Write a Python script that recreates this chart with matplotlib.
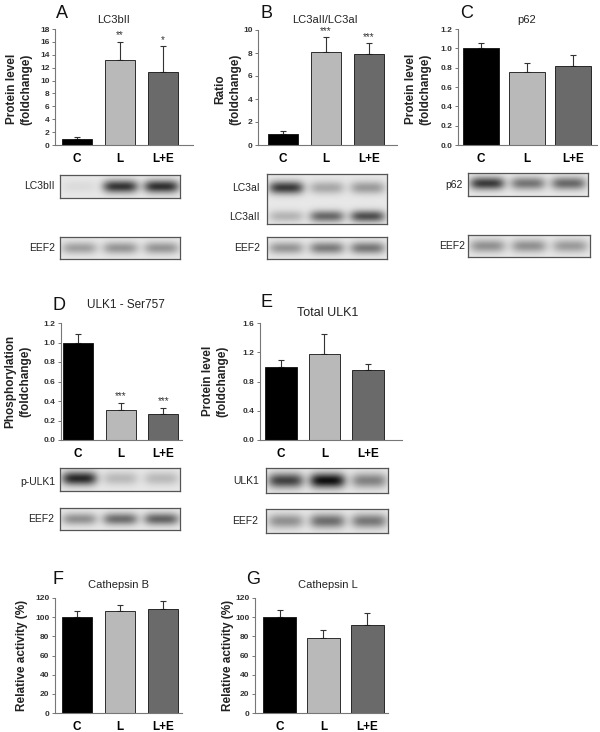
import numpy as np
import matplotlib
matplotlib.use("Agg")
import matplotlib.pyplot as plt

plt.rcParams['font.family'] = ['Liberation Sans', 'DejaVu Sans']

W, H = 600, 732
fig = plt.figure(figsize=(W / 100, H / 100), dpi=100)

# ---------------- data ----------------
groups = ["C", "L", "L+E"]
bar_colors = ["#000000", "#b9b9b9", "#6a6a6a"]

lc3b_mean = [1.0, 13.2, 11.3]
lc3b_err = [0.3, 2.8, 4.0]
lc3b_sig = ["", "**", "*"]

ratio_mean = [1.0, 8.05, 7.95]
ratio_err = [0.2, 1.3, 0.9]
ratio_sig = ["", "***", "***"]

p62_mean = [1.0, 0.76, 0.82]
p62_err = [0.06, 0.09, 0.11]
p62_sig = ["", "", ""]

pulk_mean = [1.0, 0.31, 0.265]
pulk_err = [0.09, 0.07, 0.065]
pulk_sig = ["", "***", "***"]

ulk_mean = [1.0, 1.18, 0.96]
ulk_err = [0.1, 0.27, 0.08]
ulk_sig = ["", "", ""]

catb_mean = [100, 106, 108.5]
catb_err = [6.5, 7, 8]
catb_sig = ["", "", ""]

catl_mean = [100, 78, 91.5]
catl_err = [7, 9, 13]
catl_sig = ["", "", ""]

# blot band darkness per lane (C, L, L+E)
band_lc3b = [0.05, 0.7, 0.72]
band_eef2_a = [0.28, 0.32, 0.32]
band_lc3ai = [0.68, 0.25, 0.3]
band_lc3aii = [0.2, 0.5, 0.6]
band_eef2_b = [0.32, 0.42, 0.44]
band_p62 = [0.68, 0.45, 0.5]
band_eef2_c = [0.34, 0.34, 0.3]
band_pulk = [0.75, 0.18, 0.18]
band_eef2_d = [0.34, 0.48, 0.52]
band_ulk = [0.65, 0.85, 0.4]
band_eef2_e = [0.34, 0.48, 0.44]


def add_ax(x0, y0, x1, y1):
    return fig.add_axes([x0 / W, 1 - y1 / H, (x1 - x0) / W, (y1 - y0) / H])


def bar_panel(box, xlim, ylim, ticks, fmt, means, errs, sigs, width=0.7):
    ax = add_ax(*box)
    x = np.arange(len(groups))
    ax.bar(x, means, width=width, color=bar_colors, edgecolor="#111111",
           linewidth=0.6, zorder=2)
    ax.errorbar(x, means, yerr=[np.zeros(len(errs)), errs], fmt="none",
                ecolor="#333333", elinewidth=0.8, capsize=2.5, capthick=0.8,
                zorder=1)
    rng = ylim[1] - ylim[0]
    for xi, m, e, s in zip(x, means, errs, sigs):
        if s:
            ax.text(xi, m + e + rng * 0.012, s, ha="center", va="bottom",
                    fontsize=7, color="#333333")
    ax.set_xlim(*xlim)
    ax.set_ylim(*ylim)
    ax.set_yticks(ticks)
    ax.set_yticklabels([fmt.format(t) for t in ticks])
    ax.set_xticks(x)
    ax.set_xticklabels(groups)
    for sp in ["top", "right"]:
        ax.spines[sp].set_visible(False)
    for sp in ["left", "bottom"]:
        ax.spines[sp].set_color("#777777")
        ax.spines[sp].set_linewidth(0.8)
    ax.tick_params(axis="y", length=2.5, width=0.7, color="#777777",
                   labelsize=6, labelcolor="#333333", pad=1.5)
    for lab in ax.get_yticklabels():
        lab.set_fontweight("bold")
    ax.tick_params(axis="x", length=0, labelsize=8.5, pad=6)
    for lab in ax.get_xticklabels():
        lab.set_fontweight("bold")
    ax.patch.set_alpha(0)
    return ax


def make_blot(box, rows, lanes=(0.16, 0.5, 0.84)):
    ax = add_ax(*box)
    ny, nx = 80, 240
    yy, xx = np.mgrid[0:ny, 0:nx]
    yf = yy / (ny - 1)
    xf = xx / (nx - 1)
    img = np.full((ny, nx), 0.91)
    for darks, yc, sy in rows:
        for lc, a in zip(lanes, darks):
            img -= a * np.exp(-((xf - lc) / 0.145) ** 4) * np.exp(-((yf - yc) / sy) ** 2)
    img = np.clip(img, 0, 1)
    ax.imshow(img, cmap="gray", vmin=0, vmax=1, aspect="auto",
              interpolation="bilinear", extent=[0, 1, 1, 0])
    ax.set_xticks([])
    ax.set_yticks([])
    for sp in ax.spines.values():
        sp.set_color("#555555")
        sp.set_linewidth(0.9)
    return ax


def label(x, y, s, **kw):
    fig.text(x / W, 1 - y / H, s, **kw)


def ylab(x, y, s):
    label(x, y, s, rotation=90, ha="center", va="center", fontsize=8.5,
          fontweight="bold", color="#222222", linespacing=1.3)


def title(x, y, s, size=8):
    label(x, y, s, ha="center", va="center", fontsize=size, color="#222222")


def letter(x, y, s):
    label(x, y, s, ha="center", va="center", fontsize=13, color="#111111")


def blot_label(x, y, s):
    label(x, y, s, ha="right", va="center", fontsize=7.5, color="#222222")


# ---------------- Panel A ----------------
bar_panel((55, 29, 193, 145), (-0.51, 2.70), (0, 18), np.arange(0, 19, 2), "{:.0f}",
          lc3b_mean, lc3b_err, lc3b_sig)
letter(62, 13, "A")
title(114, 20, "LC3bII")
ylab(19, 89, "Protein level\n(foldchange)")
make_blot((60, 175, 180, 198), [(band_lc3b, 0.5, 0.28)])
blot_label(55, 186, "LC3bII")
make_blot((60, 237, 180, 259), [(band_eef2_a, 0.5, 0.28)])
blot_label(55, 248, "EEF2")

# ---------------- Panel B ----------------
bar_panel((258, 30, 397, 145), (-0.58, 2.65), (0, 10), np.arange(0, 11, 2), "{:.0f}",
          ratio_mean, ratio_err, ratio_sig)
letter(267, 13, "B")
title(325, 20, "LC3aII/LC3aI")
ylab(228, 89, "Ratio\n(foldchange)")
make_blot((267, 174, 387, 224), [(band_lc3ai, 0.27, 0.13), (band_lc3aii, 0.85, 0.12)])
blot_label(260, 188, "LC3aI")
blot_label(260, 217, "LC3aII")
make_blot((267, 237, 387, 259), [(band_eef2_b, 0.5, 0.28)])
blot_label(260, 248, "EEF2")

# ---------------- Panel C ----------------
bar_panel((458, 29, 597, 145), (-0.5, 2.52), (0, 1.2), np.round(np.arange(0, 1.21, 0.2), 1),
          "{:.1f}", p62_mean, p62_err, p62_sig, width=0.78)
letter(467, 13, "C")
title(527, 20, "p62")
ylab(418, 89, "Protein level\n(foldchange)")
make_blot((468, 173, 588, 196), [(band_p62, 0.45, 0.28)])
blot_label(463, 185, "p62")
make_blot((468, 235, 590, 257), [(band_eef2_c, 0.5, 0.3)])
blot_label(465, 246, "EEF2")

# ---------------- Panel D ----------------
bar_panel((61, 323, 182, 440), (-0.4, 2.44), (0, 1.2), np.round(np.arange(0, 1.21, 0.2), 1),
          "{:.1f}", pulk_mean, pulk_err, pulk_sig)
letter(59, 305, "D")
title(126, 305, "ULK1 - Ser757", size=8.5)
ylab(18, 381, "Phosphorylation\n(foldchange)")
make_blot((60, 468, 180, 491), [(band_pulk, 0.45, 0.3)])
blot_label(55, 482, "p-ULK1")
make_blot((60, 508, 180, 530), [(band_eef2_d, 0.5, 0.28)])
blot_label(54, 519, "EEF2")

# ---------------- Panel E ----------------
bar_panel((260, 323, 402, 440), (-0.48, 2.78), (0, 1.6), np.round(np.arange(0, 1.61, 0.4), 1),
          "{:.1f}", ulk_mean, ulk_err, ulk_sig, width=0.73)
letter(267, 303, "E")
title(328, 313, "Total ULK1", size=9)
ylab(215, 381, "Protein level\n(foldchange)")
make_blot((266, 468, 388, 493), [(band_ulk, 0.5, 0.3)])
blot_label(259, 481, "ULK1")
make_blot((266, 509, 388, 533), [(band_eef2_e, 0.5, 0.3)])
blot_label(258, 521, "EEF2")

# ---------------- Panel F ----------------
bar_panel((55, 598, 182, 713), (-0.51, 2.44), (0, 120), np.arange(0, 121, 20), "{:.0f}",
          catb_mean, catb_err, catb_sig)
letter(58, 580, "F")
title(119, 585, "Cathepsin B")
ylab(22, 655, "Relative activity (%)")

# ---------------- Panel G ----------------
bar_panel((255, 598, 388, 713), (-0.56, 2.47), (0, 120), np.arange(0, 121, 20), "{:.0f}",
          catl_mean, catl_err, catl_sig, width=0.75)
letter(253, 580, "G")
title(328, 585, "Cathepsin L")
ylab(228, 655, "Relative activity (%)")

fig.savefig("out.png", dpi=100, facecolor="white")
